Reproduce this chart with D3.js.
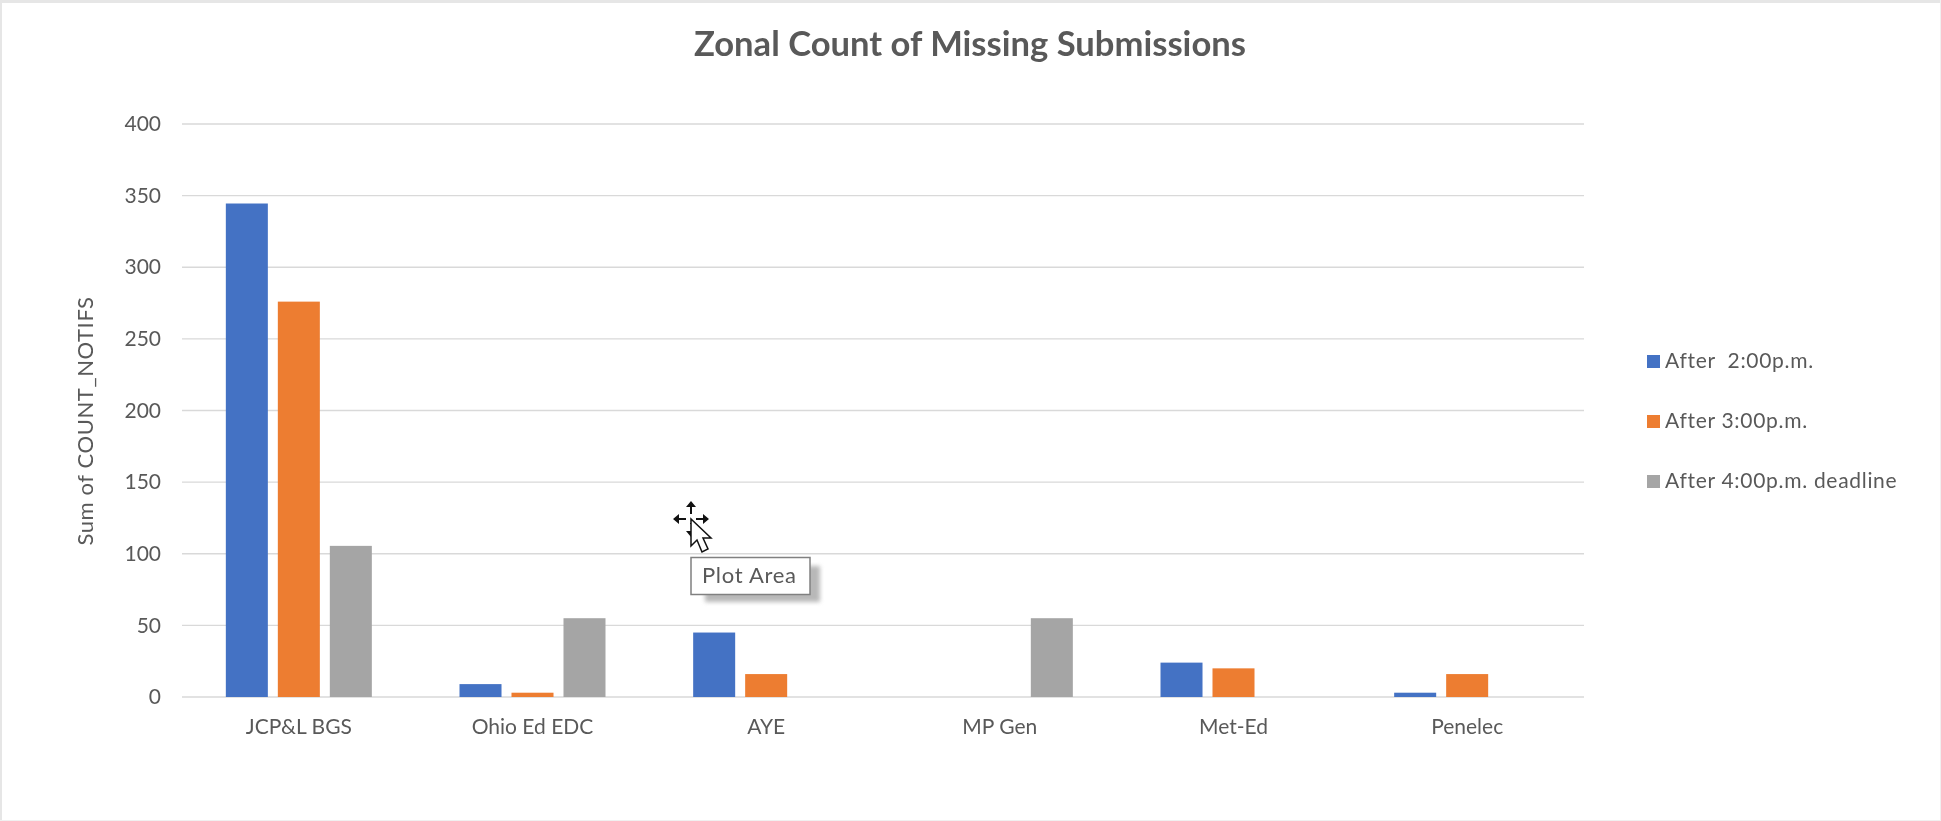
<!DOCTYPE html>
<html><head><meta charset="utf-8">
<script src="https://cdn.jsdelivr.net/npm/d3@7"></script>
<style>html,body{margin:0;padding:0;background:#fff}svg{display:block}text{font-family:Lato,sans-serif;filter:blur(.4px)}</style>
</head><body><div id="chart"></div>
<script>
const categories = ["JCP&L BGS","Ohio Ed EDC","AYE","MP Gen","Met-Ed","Penelec"];
const seriesNames = ["After  2:00p.m.","After 3:00p.m.","After 4:00p.m. deadline"];
const after2 = [344.5,9,45,0,24,3];
const after3 = [276,3,16,0,20,16];
const after4 = [105.5,55,0,55,0,0];
const seriesValues = [after2,after3,after4];
const colors = ["#4472C4","#ED7D31","#A5A5A5"];
const yTicks = [0,50,100,150,200,250,300,350,400];

const W=1941,H=821;
const svg=d3.select("#chart").append("svg").attr("width",W).attr("height",H);
const frame=svg.append("g").attr("fill","#e6e6e6");
frame.append("rect").attr("x",0).attr("y",0).attr("width",W).attr("height",3);
frame.append("rect").attr("x",0).attr("y",0).attr("width",2).attr("height",H);
frame.append("rect").attr("x",W-1).attr("y",0).attr("width",1).attr("height",H).attr("fill","#f0f0f0");
frame.append("rect").attr("x",0).attr("y",H-1).attr("width",W).attr("height",1).attr("fill","#f0f0f0");

const x0=d3.scaleBand().domain(categories).range([182,1584]);
const x1=d3.scaleBand().domain(d3.range(3)).range([0,x0.bandwidth()]).paddingInner(0.192).paddingOuter(0.843);
const y=d3.scaleLinear().domain([0,400]).range([697,124]);
const txt="#595959", fs=21;

svg.append("g").selectAll("line").data(yTicks).join("line")
  .attr("x1",182).attr("x2",1584).attr("y1",d=>y(d)).attr("y2",d=>y(d))
  .attr("stroke","#d9d9d9").attr("stroke-width",1.3);

const yAxis=svg.append("g").attr("transform","translate(182,0)").call(d3.axisLeft(y).tickValues(yTicks).tickSize(0).tickPadding(21));
yAxis.select(".domain").remove();
yAxis.selectAll("text").attr("fill",txt).attr("font-size",fs).style("font-family","Lato,sans-serif");

const xAxis=svg.append("g").attr("transform","translate(0,697)").call(d3.axisBottom(x0).tickSize(0).tickPadding(22));
xAxis.select(".domain").remove();
xAxis.selectAll("text").attr("fill",txt).attr("font-size",fs).style("font-family","Lato,sans-serif");

seriesValues.forEach((vals,s)=>{
  svg.append("g").selectAll("rect").data(vals).join("rect")
    .attr("x",(d,i)=>x0(categories[i])+x1(s)).attr("width",x1.bandwidth())
    .attr("y",d=>y(d)).attr("height",d=>697-y(d)).attr("fill",colors[s]);
});

svg.append("text").attr("x",970).attr("y",56).attr("text-anchor","middle")
  .attr("font-size",34.6).attr("font-weight",700).attr("fill",txt).text("Zonal Count of Missing Submissions");
svg.append("text").attr("transform","translate(93,421) rotate(-90)").attr("text-anchor","middle")
  .attr("font-size",22).attr("letter-spacing",0.6).attr("fill",txt).text("Sum of COUNT_NOTIFS");

const legY=[361,421,481];
seriesNames.forEach((n,i)=>{
  svg.append("rect").attr("x",1647).attr("y",legY[i]-6).attr("width",13).attr("height",13).attr("fill",colors[i]);
  svg.append("text").attr("x",1665).attr("y",legY[i]+7).attr("font-size",fs).attr("letter-spacing",0.7).attr("fill",txt).style("white-space","pre").text(n);
});

// tooltip
svg.append("rect").attr("x",705).attr("y",566).attr("width",115).attr("height",36).attr("fill","#8a8a8a").attr("opacity",0.6).style("filter","blur(2px)");
svg.append("rect").attr("x",691).attr("y",557.5).attr("width",119).attr("height",37).attr("fill","#fff").attr("stroke","#808080").attr("stroke-width",1.5);
svg.append("text").attr("x",702).attr("y",583).attr("font-size",22).attr("letter-spacing",0.7).attr("fill",txt).text("Plot Area");

// cursor
const c=svg.append("g").attr("transform","translate(691,519)");
c.append("path").attr("d","M0,-16V-5M0,5V4M-16,0H-5M5,0H16").attr("stroke","#111").attr("stroke-width",2).attr("fill","none");
c.append("path").attr("d","M0,-18L-5,-12H5ZM0,18L-5,12H5ZM-18,0L-12,-5V5ZM18,0L12,-5V5Z").attr("fill","#111");
c.append("path").attr("d","M0,0V27L6,21L11,33L17,30L12,19H20Z").attr("fill","#fff").attr("stroke","#111").attr("stroke-width",1.5);
</script></body></html>
